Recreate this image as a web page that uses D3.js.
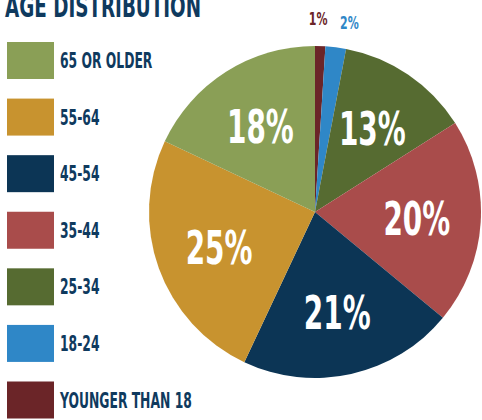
<!DOCTYPE html>
<html>
<head>
<meta charset="utf-8">
<script src="https://cdn.jsdelivr.net/npm/d3@7"></script>
<style>
html,body{margin:0;padding:0;background:#fff;}
svg{display:block;}
text{font-family:"DejaVu Sans Condensed","DejaVu Sans",sans-serif;font-weight:bold;}
</style>
</head>
<body>
<svg id="chart" width="482" height="420"></svg>
<script>
const categories = ["YOUNGER THAN 18","18-24","25-34","35-44","45-54","55-64","65 OR OLDER"];
const values = [1, 2, 13, 20, 21, 25, 18];
const colors = ["#6b2528","#2f87c7","#566b31","#a94c4b","#0c3555","#c8932f","#8a9f56"];
const legendOrder = ["65 OR OLDER","55-64","45-54","35-44","25-34","18-24","YOUNGER THAN 18"];
const title = "AGE DISTRIBUTION";

const svg = d3.select("#chart");
const navy = "#0f3a5e";
const color = d3.scaleOrdinal().domain(categories).range(colors);

// title
svg.append("text").attr("transform","translate(5,17) scale(0.68,1)")
  .attr("font-size",30).attr("fill",navy).text(title);

// legend
const ly = d3.scalePoint().domain(legendOrder).range([60.5, 400]);
const lg = svg.append("g").selectAll("g").data(legendOrder).join("g")
  .attr("transform", d => `translate(7,${ly(d)})`);
lg.append("rect").attr("x",0).attr("y",-18.5).attr("width",47).attr("height",37)
  .attr("fill", d => color(d));
lg.append("text").attr("transform","translate(53,7.5) scale(0.67,1)")
  .attr("font-size",20.5).attr("fill",navy).text(d => d);

// pie
const cx = 315, cy = 212, r = 166;
const pie = d3.pie().sort(null).value(d => d.v);
const data = pie(categories.map((c,i)=>({c, v: values[i]})));
const g = svg.append("g").attr("transform",`translate(${cx},${cy})`);
const arc = d3.arc().innerRadius(0).outerRadius(r);
g.selectAll("path").data(data).join("path").attr("d", arc).attr("fill", d => color(d.data.c));

const inner = d3.arc().innerRadius(102).outerRadius(102);
const outer = d3.arc().innerRadius(195).outerRadius(195);
const big = data.filter(d => d.data.v >= 5);
const small = data.filter(d => d.data.v < 5);
g.selectAll("text.big").data(big).join("text").attr("class","big")
  .attr("transform", d => { const [x,y] = inner.centroid(d); return `translate(${x},${y+17}) scale(0.66,1)`; })
  .attr("text-anchor","middle").attr("font-size",47).attr("fill","#fff")
  .text(d => d.data.v + "%");
g.selectAll("text.small").data(small).join("text").attr("class","small")
  .attr("transform", (d,i) => { const [x,y] = outer.centroid(d); return `translate(${x + (i===0?-3:10)},${y+(i===0?8:10.5)}) scale(0.72,1)`; })
  .attr("text-anchor","middle").attr("font-size",17).attr("fill", d => color(d.data.c))
  .text(d => d.data.v + "%");
</script>
</body>
</html>
